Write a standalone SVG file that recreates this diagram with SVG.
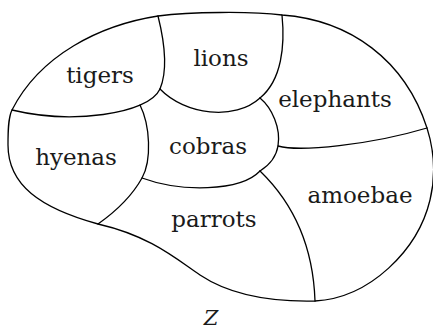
<svg xmlns="http://www.w3.org/2000/svg" width="433" height="329" viewBox="0 0 433 329">
<style>
.ln{fill:none;stroke:#000;stroke-width:1.3;stroke-linejoin:round;stroke-linecap:round}
.lb{font-family:'DejaVu Serif',serif;font-size:23px;fill:#1a1a1a;text-anchor:middle}
.z{font-family:'DejaVu Serif',serif;font-size:21px;font-style:italic;fill:#1a1a1a;text-anchor:middle}
</style>
<rect width="433" height="329" fill="#fff"/>
<g id="outline">
<path class="ln" d="M12,110 C40,55 100,25 158,16 C190,12 250,11 282,15 C350,20 405,60 427,128 C434,150 436,175 430,200 C418,250 370,298 315,301 C270,302 230,295 200,275 C175,258 150,236 98,224 C40,208 8,185 8,145 C8,132 8,118 12,110 Z"/>
</g>
<g id="boundaries">
<path class="ln" d="M158,16 C164,40 168,70 160,89"/>
<path class="ln" d="M160,89 C148,115 70,124 12,110"/>
<path class="ln" d="M160,89 C185,115 235,121 260,98"/>
<path class="ln" d="M282,15 C285,45 282,80 260,98"/>
<path class="ln" d="M260,98 C272,108 281,128 278,146 C276,158 268,166 260,171"/>
<path class="ln" d="M278,146 C300,152 370,145 427,128"/>
<path class="ln" d="M260,171 C240,192 180,192 142,178"/>
<path class="ln" d="M140,105 C150,125 152,160 142,178 C132,196 115,212 98,224"/>
<path class="ln" d="M260,171 C290,200 313,240 315,301"/>
</g>
<g id="labels">
<text class="lb" x="100" y="83">tigers</text>
<text class="lb" x="221" y="66">lions</text>
<text class="lb" x="335" y="107">elephants</text>
<text class="lb" x="208" y="154">cobras</text>
<text class="lb" x="76" y="165">hyenas</text>
<text class="lb" x="214" y="227">parrots</text>
<text class="lb" x="360" y="203">amoebae</text>
<text class="z" x="211" y="325">Z</text>
</g>
</svg>
